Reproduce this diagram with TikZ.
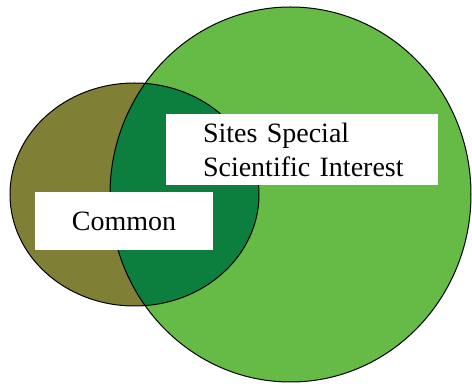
\documentclass[tikz,border=0pt]{standalone}
\usepackage{fontspec}
\setmainfont{Liberation Serif}
\definecolor{cmnolive}{RGB}{127,127,54}
\definecolor{sssigreen}{RGB}{102,187,71}
\definecolor{bothgreen}{RGB}{12,127,63}
\tikzset{
  lbl/.style={fill=white,inner sep=0pt,font=\fontsize{14}{17}\selectfont},
  edge/.style={draw=black,line width=0.5pt}
}
\begin{document}
\begin{tikzpicture}[x=0.5pt,y=-0.5pt]
    \useasboundingbox (0,0) rectangle (472,384);
    %% centres of the two areas
    \coordinate (C) at (134.5,194.5);
    \coordinate (S) at (290.5,194.5);
    %% areas
    \fill[sssigreen] (S) ellipse [x radius=90.25pt,y radius=93.75pt];
    \fill[cmnolive] (C) ellipse [x radius=62.25pt,y radius=55.75pt];
    \begin{scope}
        \clip (C) ellipse [x radius=62.25pt,y radius=55.75pt];
        \fill[bothgreen] (S) ellipse [x radius=90.25pt,y radius=93.75pt];
    \end{scope}
    \path[edge] (S) ellipse [x radius=90.25pt,y radius=93.75pt];
    \path[edge] (C) ellipse [x radius=62.25pt,y radius=55.75pt];
    %% labels
    \node[lbl,text width=136pt,minimum height=35.5pt,align=left] (sssi) at (302,149.5) {\hspace*{18.5pt}Sites Special\\\hspace*{18.5pt}Scientific Interest};
    \node[lbl,minimum width=89pt,minimum height=29pt] (cmn) at (124,221) {Common};
\end{tikzpicture}
\end{document}
